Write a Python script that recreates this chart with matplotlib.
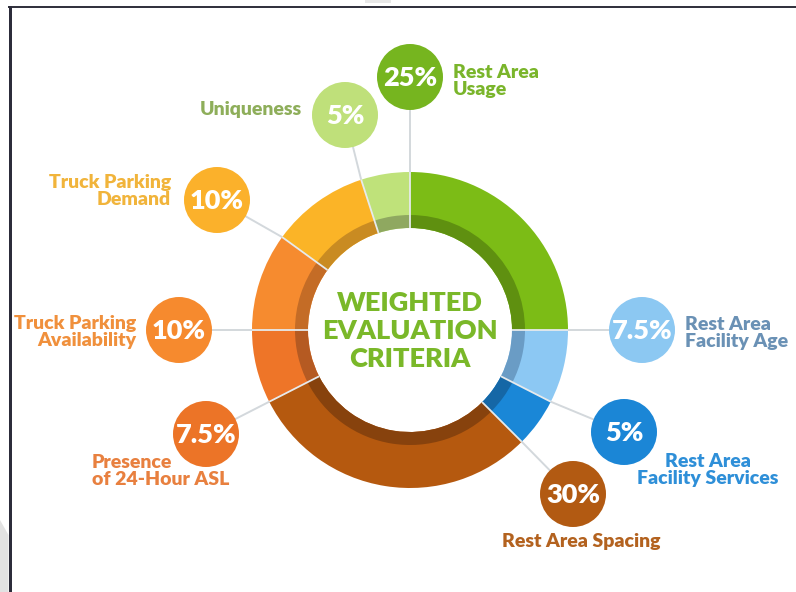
import matplotlib
matplotlib.use("Agg")
import matplotlib.pyplot as plt
from matplotlib.patches import Circle, Polygon, Rectangle
import numpy as np

# ---------------- data ----------------
categories = ["Rest Area Usage", "Rest Area Facility Age", "Rest Area Facility Services",
              "Rest Area Spacing", "Presence of 24-Hour ASL", "Truck Parking Availability",
              "Truck Parking Demand", "Uniqueness"]
label_texts = ["Rest Area\nUsage", "Rest Area\nFacility Age", "Rest Area\nFacility Services",
               "Rest Area Spacing", "Presence\nof 24-Hour ASL", "Truck Parking\nAvailability",
               "Truck Parking\nDemand", "Uniqueness"]
weights = [25, 7.5, 5, 30, 7.5, 10, 10, 5]
pct_labels = ["25%", "7.5%", "5%", "30%", "7.5%", "10%", "10%", "5%"]
center_title = "WEIGHTED\nEVALUATION\nCRITERIA"

# ---------------- styles ----------------
ring_colors = ["#7cbc16", "#8cc8f3", "#1a87d7", "#b5590f", "#ee7528", "#f68b2f", "#fbb427", "#bfe27a"]
band_colors = ["#5f9010", "#6a9cc5", "#1567a6", "#87420d", "#b55a22", "#c46c26", "#c98b22", "#8fa860"]
bubble_colors = ["#76b51f", "#8cc8f2", "#1b86d6", "#b25a12", "#ec7427", "#f68a2e", "#fbb12b", "#bfe07a"]
text_colors = ["#7ab52b", "#6a91b5", "#2e8fd8", "#b3621f", "#e8803f", "#f0903c", "#f1b43b", "#8eae5a"]

# layout (image pixel coordinates, y downward)
bubble_pos = [(410, 77), (642, 330), (624, 432), (573, 494), (206, 434), (179, 330), (217, 200), (345, 115)]
label_pos = [(453, 81), (685, 333), (708, 470), (581, 541), (92, 471), (136, 332), (171, 191), (302, 110)]
label_ha = ["left", "left", "center", "center", "left", "right", "right", "right"]

W, H = 796, 592
CX, CY = 410, 330
R_OUT, R_IN, BAND = 158, 102, 13
BUB_R = 33
LINE_C = "#d3d8dc"
FONT = "Lato"


def Y(y):
    return H - y


fig = plt.figure(figsize=(W / 100, H / 100), dpi=100)
ax = fig.add_axes([0, 0, 1, 1])

# donut ring
ax.pie(weights, colors=ring_colors, startangle=90, counterclock=False, radius=R_OUT,
       center=(CX, Y(CY)), wedgeprops=dict(width=R_OUT - R_IN, linewidth=0), normalize=True)
# darker inner band
ax.pie(weights, colors=band_colors, startangle=90, counterclock=False, radius=R_IN + BAND,
       center=(CX, Y(CY)), wedgeprops=dict(width=BAND, linewidth=0), normalize=True)

# leader lines and separators
total = float(sum(weights))
cum = np.concatenate([[0], np.cumsum(weights)[:-1]])
for i, c in enumerate(cum):
    ang = np.deg2rad(90 - 360 * c / total)
    ox, oy = CX + R_OUT * np.cos(ang), Y(CY) + R_OUT * np.sin(ang)
    ix, iy = CX + R_IN * np.cos(ang), Y(CY) + R_IN * np.sin(ang)
    bx, by = bubble_pos[i]
    ax.plot([bx, ox], [Y(by), oy], color=LINE_C, lw=1.4, zorder=0.5, solid_capstyle="butt")
    ax.plot([ox, ix], [oy, iy], color="#e6eaec", lw=1.3, zorder=3, solid_capstyle="butt")

# bubbles and labels
for i in range(len(weights)):
    bx, by = bubble_pos[i]
    ax.add_patch(Circle((bx, Y(by)), BUB_R, facecolor=bubble_colors[i], edgecolor="none", zorder=4))
    ax.text(bx, Y(by) - 1, pct_labels[i], color="white", fontsize=19.5, fontweight="heavy",
            family=FONT, ha="center", va="center", zorder=5)
    lx, ly = label_pos[i]
    ax.text(lx, Y(ly), label_texts[i], color=text_colors[i], fontsize=14, fontweight="heavy",
            family=FONT, ha=label_ha[i], va="center", multialignment=label_ha[i],
            linespacing=1.05, zorder=5)

# center title
ax.text(CX, Y(331), center_title, color="#7ab829", fontsize=19.5, fontweight="heavy", family=FONT,
        ha="center", va="center", multialignment="center", linespacing=1.2, zorder=5)

# frame decorations
ax.add_patch(Rectangle((8, Y(8)), W - 8, 2.5, facecolor="#33333f", edgecolor="none", zorder=6))
ax.add_patch(Rectangle((8.5, 0), 3, Y(6), facecolor="#2c2c3a", edgecolor="none", zorder=6))
ax.add_patch(Polygon([(0, Y(520)), (8.5, Y(535)), (8.5, 0), (0, 0)], closed=True,
                     facecolor="#e2e2e2", edgecolor="none", zorder=6))
ax.add_patch(Rectangle((365, Y(3)), 26, 3, facecolor="#e8e8e8", edgecolor="none", zorder=6))

ax.set_xlim(0, W)
ax.set_ylim(0, H)
ax.set_aspect("auto")
ax.axis("off")
fig.savefig("out.png", dpi=100, facecolor="white")
